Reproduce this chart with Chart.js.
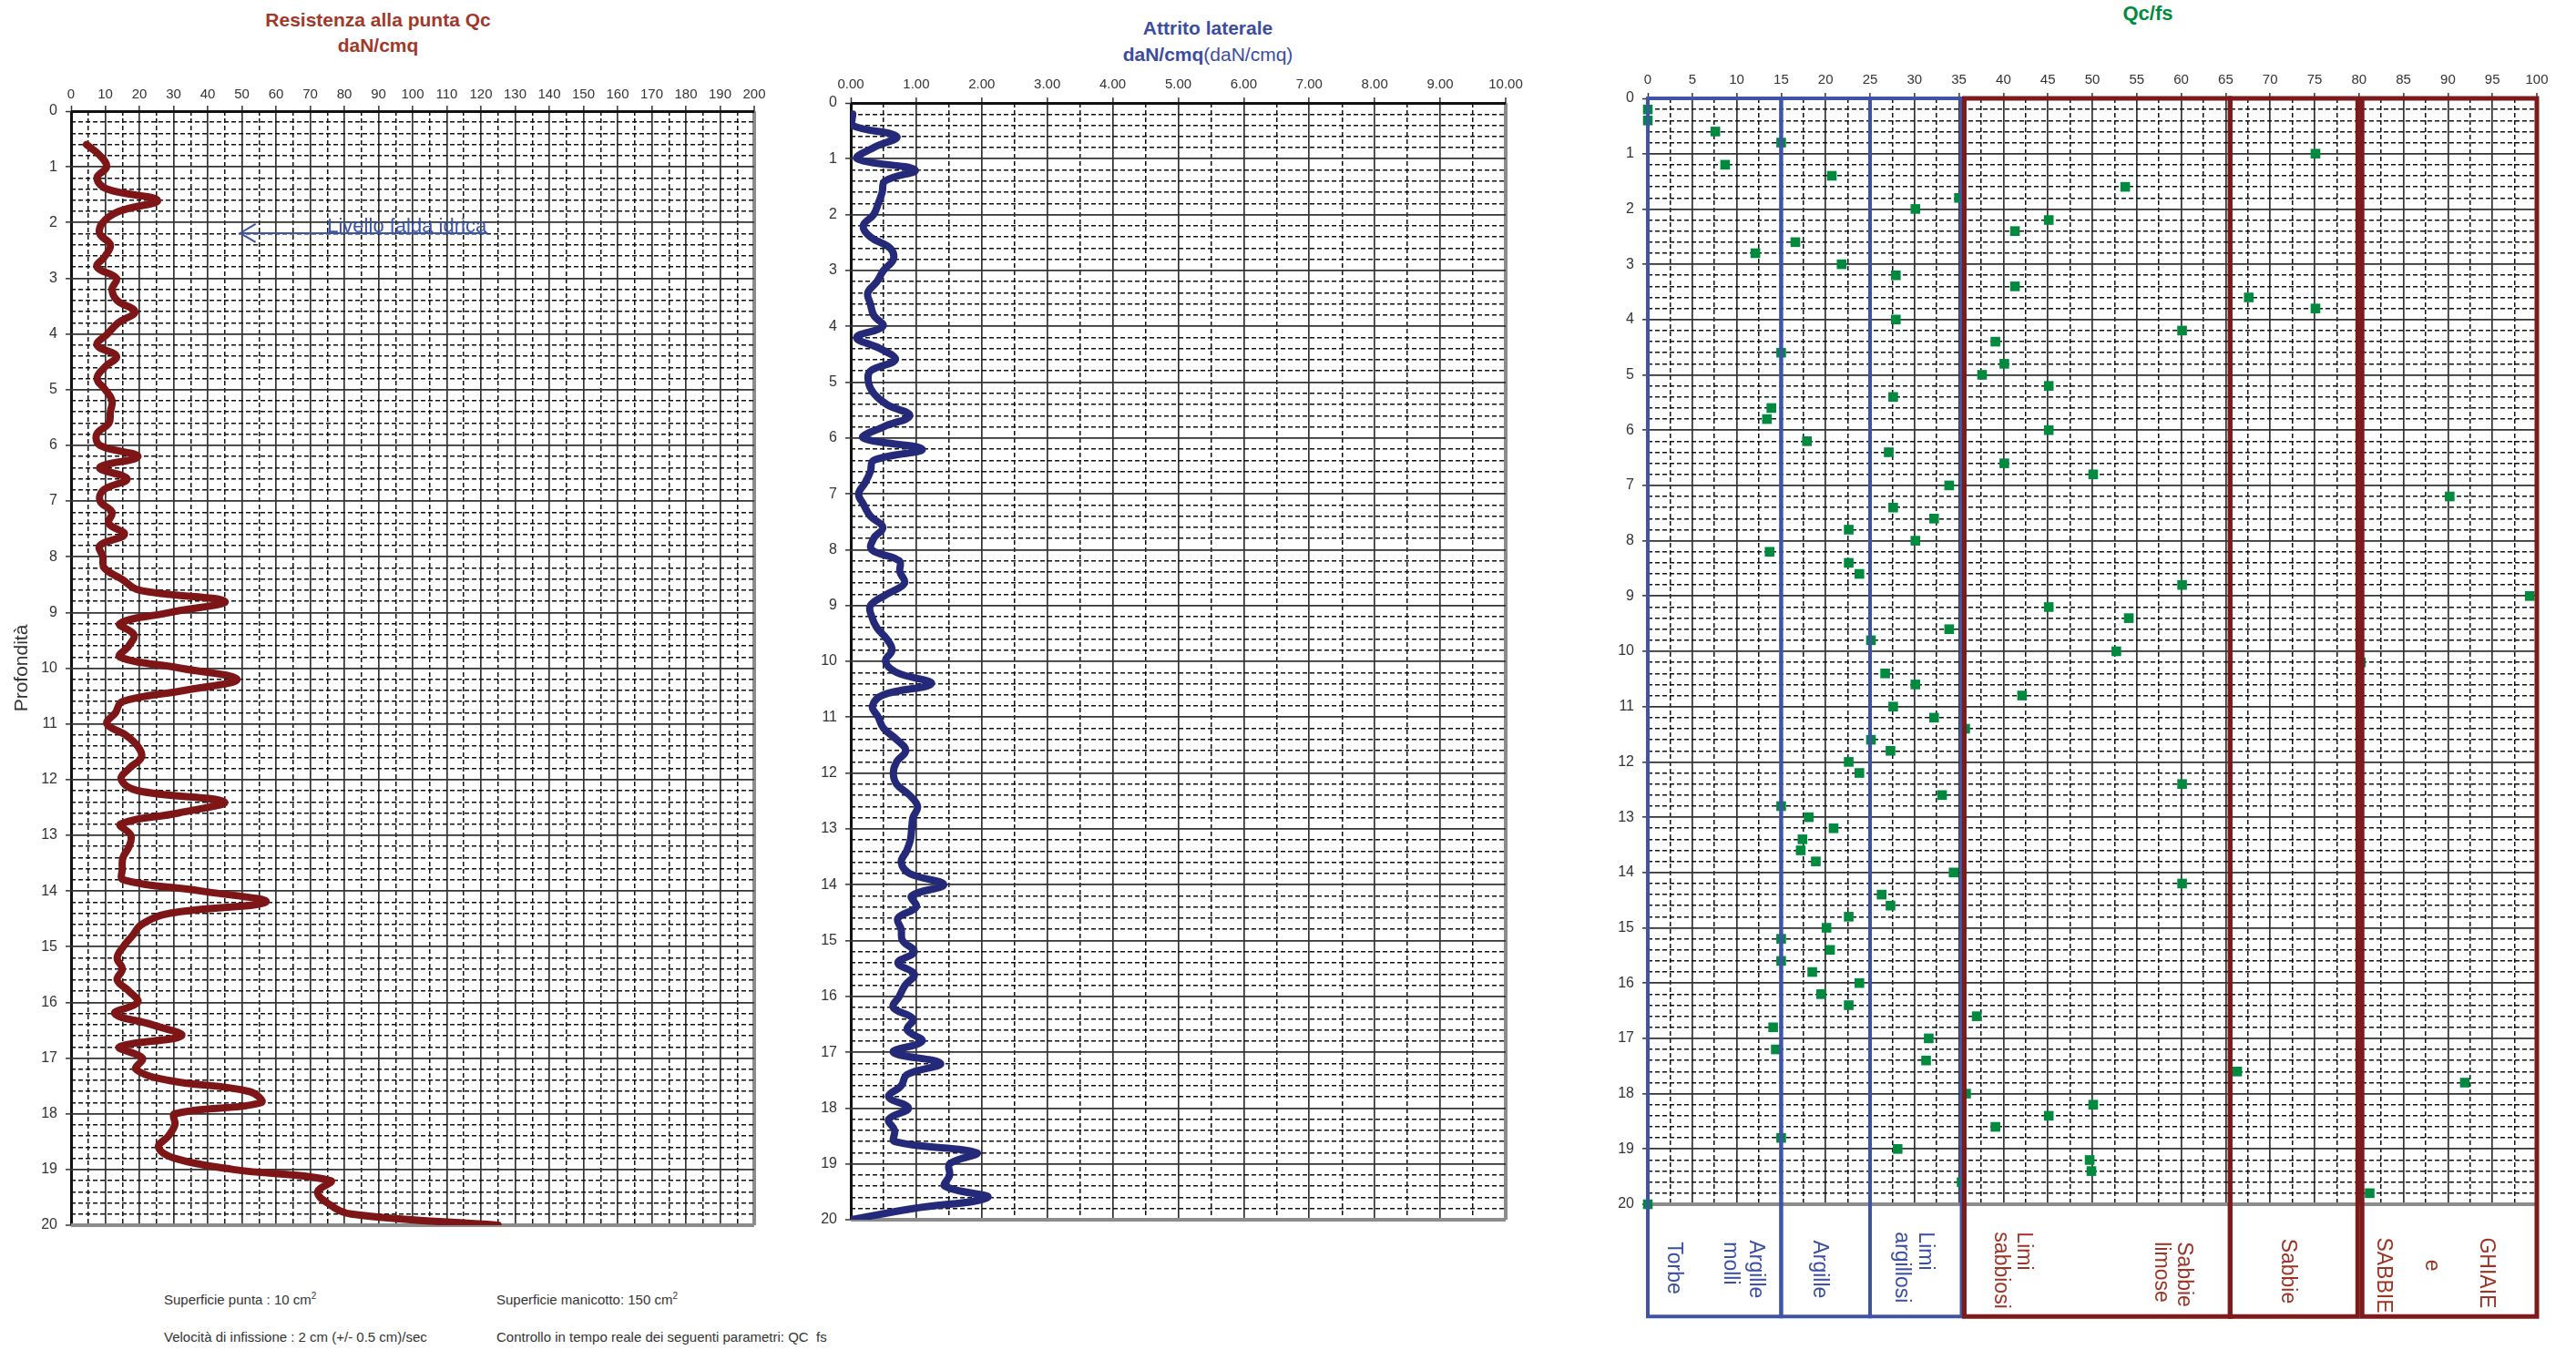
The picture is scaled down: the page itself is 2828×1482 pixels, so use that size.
<!DOCTYPE html>
<html>
<head>
<meta charset="utf-8">
<script src="https://cdn.jsdelivr.net/npm/chart.js@4.4.0/dist/chart.umd.min.js"></script>
<style>
  body { margin: 0; width: 2828px; height: 1482px; background: #fff; position: relative; overflow: hidden;
         font-family: 'Liberation Sans', Arial, sans-serif; }
  canvas { position: absolute; }
  .title { position: absolute; text-align: center; font-weight: bold; white-space: nowrap; }
  .note { position: absolute; font-size: 15px; color: #333; white-space: nowrap; }
  .note sup { font-size: 10px; }
</style>
</head>
<body>

<div class="title" style="left:215px;top:8px;width:400px;font-size:21px;line-height:28px;color:#a0392b">Resistenza alla punta Qc<br>daN/cmq</div>
<div class="title" style="left:1126px;top:16px;width:400px;font-size:21px;line-height:29px;color:#3b4ca2">Attrito laterale<br>daN/cmq<span style="font-weight:normal">(daN/cmq)</span></div>
<div class="title" style="left:2258px;top:1px;width:200px;font-size:22px;line-height:28px;color:#008a3e">Qc/fs</div>

<canvas id="qc" width="860" height="1370" style="left:0;top:0"></canvas>
<canvas id="fs" width="800" height="1370" style="left:880px;top:0"></canvas>
<canvas id="ratio" width="1088" height="1482" style="left:1740px;top:0"></canvas>

<div class="note" style="left:180px;top:1417px">Superficie punta : 10 cm<sup>2</sup></div>
<div class="note" style="left:545px;top:1417px">Superficie manicotto: 150 cm<sup>2</sup></div>
<div class="note" style="left:180px;top:1459px">Velocità di infissione : 2 cm (+/- 0.5 cm)/sec</div>
<div class="note" style="left:545px;top:1459px">Controllo in tempo reale dei seguenti parametri: QC&nbsp; fs</div>

<script>
// depth of each reading (m)
const depths = [
  0.2, 0.4, 0.6, 0.8, 1.0, 1.2, 1.4, 1.6, 1.8, 2.0,
  2.2, 2.4, 2.6, 2.8, 3.0, 3.2, 3.4, 3.6, 3.8, 4.0,
  4.2, 4.4, 4.6, 4.8, 5.0, 5.2, 5.4, 5.6, 5.8, 6.0,
  6.2, 6.4, 6.6, 6.8, 7.0, 7.2, 7.4, 7.6, 7.8, 8.0,
  8.2, 8.4, 8.6, 8.8, 9.0, 9.2, 9.4, 9.6, 9.8, 10.0,
  10.2, 10.4, 10.6, 10.8, 11.0, 11.2, 11.4, 11.6, 11.8, 12.0,
  12.2, 12.4, 12.6, 12.8, 13.0, 13.2, 13.4, 13.6, 13.8, 14.0,
  14.2, 14.4, 14.6, 14.8, 15.0, 15.2, 15.4, 15.6, 15.8, 16.0,
  16.2, 16.4, 16.6, 16.8, 17.0, 17.2, 17.4, 17.6, 17.8, 18.0,
  18.2, 18.4, 18.6, 18.8, 19.0, 19.2, 19.4, 19.6, 19.8, 20.0
];

// resistenza alla punta Qc (daN/cmq)
const qcValues = [
  null, null, 4.5, 8.5, 10.4, 7.6, 10.5, 25.3, 14, 9.3,
  8.4, 11.5, 10, 7.6, 13.3, 12, 13.5, 18.7, 13.8, 10.7,
  7.6, 13.3, 9.8, 7.6, 10, 12, 11.5, 11.1, 7.5, 8.5,
  19.6, 8.4, 16.4, 9.5, 8.5, 12, 11, 15.6, 8.4, 9.3,
  9.7, 14.8, 20, 45, 29, 14.3, 18.4, 16.9, 14.3, 32,
  48.6, 33, 15, 13, 10.5, 16, 19.5, 20.6, 17, 14.7,
  19.5, 44.8, 31.5, 14.5, 17.5, 17, 15.2, 15, 15.3, 38,
  57, 29, 20.7, 18, 15.3, 13.5, 15, 13.5, 17, 19.5,
  12.8, 23.7, 32.3, 14.2, 20.9, 19, 28.5, 52.2, 55.6, 30.4,
  30.4, 28.5, 25.6, 30.4, 47.5, 76, 72.2, 75, 82, 125
];

// attrito laterale fs (daN/cmq)
const fsValues = [
  0.03, 0.02, 0.7, 0.35, 0.1, 0.98, 0.52, 0.48, 0.42, 0.35,
  0.19, 0.3, 0.6, 0.65, 0.5, 0.4, 0.26, 0.3, 0.35, 0.49,
  0.09, 0.45, 0.68, 0.3, 0.27, 0.35, 0.55, 0.9, 0.5, 0.19,
  1.09, 0.35, 0.3, 0.22, 0.12, 0.2, 0.3, 0.49, 0.35, 0.32,
  0.74, 0.75, 0.82, 0.55, 0.3, 0.32, 0.4, 0.55, 0.63, 0.53,
  0.7, 1.23, 0.5, 0.33, 0.42, 0.5, 0.7, 0.84, 0.7, 0.65,
  0.7, 0.9, 1.02, 0.95, 0.93, 0.91, 0.85, 0.77, 0.9, 1.42,
  0.93, 1.0, 0.72, 0.77, 0.79, 0.97, 0.72, 0.97, 0.83, 0.74,
  0.65, 0.95, 0.86, 1.09, 0.65, 1.37, 0.86, 0.77, 0.58, 0.88,
  0.58, 0.67, 0.67, 1.92, 1.51, 1.51, 1.44, 2.09, 0.95, 0
];

// rapporto Qc/fs
const ratioValues = [
  0, 0, 7.6, 15.0, 75.1, 8.7, 20.7, 53.7, 35.0, 30.1,
  45.1, 41.3, 16.6, 12.1, 21.8, 27.9, 41.3, 67.6, 75.1, 27.9,
  60.1, 39.1, 15.0, 40.1, 37.6, 45.1, 27.6, 13.9, 13.4, 45.1,
  17.9, 27.1, 40.1, 50.1, 33.9, 90.2, 27.6, 32.2, 22.6, 30.1,
  13.7, 22.6, 23.8, 60.1, 99.2, 45.1, 54.1, 33.9, 25.1, 52.7,
  80.2, 26.7, 30.1, 42.1, 27.6, 32.2, 35.7, 25.1, 27.3, 22.6,
  23.8, 60.1, 33.1, 15.0, 18.1, 20.9, 17.4, 17.2, 18.9, 34.4,
  60.1, 26.3, 27.3, 22.6, 20.1, 15.0, 20.5, 15.0, 18.5, 23.8,
  19.5, 22.6, 37.0, 14.1, 31.6, 14.4, 31.3, 66.3, 91.9, 35.8,
  50.1, 45.1, 39.1, 15.0, 28.1, 49.7, 49.9, 35.3, 81.2, 0
];

// soil classes along the Qc/fs axis
const zoneBounds = [[0, 15], [15, 25], [25, 35.3], [35.6, 65.5], [65.5, 79.85], [80.35, 100]];
const zoneLabels = [
  [['Torbe', 2.9, 20.68], ['Argille', 12.1, 20.65], ['molli', 9.3, 20.68]],
  [['Argille', 19.3, 20.65]],
  [['Limi', 31.2, 20.5], ['argillosi', 28.5, 20.5]],
  [['Limi', 42.2, 20.5], ['sabbiosi', 39.7, 20.5], ['Sabbie', 60.3, 20.68], ['limose', 57.7, 20.68]],
  [['Sabbie', 72, 20.62]],
  [['GHIAIE', 94.3, 20.6], ['e', 88.1, 21.0], ['SABBIE', 82.7, 20.6]]
];
const zoneBottomDepth = 22.03;

const waterDepth = 2.19;

Chart.defaults.font.family = "'Liberation Sans', Arial, sans-serif";
Chart.defaults.color = '#333';

const isMult = (v, s) => Math.abs(v / s - Math.round(v / s)) < 1e-6;
const toPoints = vals => vals.map((v, i) => (v === null ? null : { x: v, y: depths[i] })).filter(p => p);

function gridStyle(major, max) {
  return {
    color: c => (c.tick.value === 0 ? '#111' : c.tick.value === max ? '#8c8c8c' : (isMult(c.tick.value, major) ? '#333' : '#111')),
    lineWidth: c => (c.tick.value === 0 ? 3 : c.tick.value === max ? 4 : (isMult(c.tick.value, major) ? 1.7 : 1.5)),
    tickLength: 6,
    tickWidth: 1.5,
    tickColor: c => (isMult(c.tick.value, major) ? '#333' : 'rgba(0,0,0,0)')
  };
}

function depthScale(width, pad) {
  return {
    type: 'linear',
    reverse: true,
    min: 0,
    max: 20,
    afterFit: s => { s.width = width; },
    ticks: {
      stepSize: 0.2, autoSkip: false, maxTicksLimit: 1000, padding: pad,
      font: { size: 16 }, color: '#333',
      callback: v => (isMult(v, 1) ? String(Math.round(v)) : '')
    },
    grid: gridStyle(1, 20),
    border: { display: false, dash: c => (c.tick && !isMult(c.tick.value, 1) ? [5, 3] : []) }
  };
}

function valueScale(max, major, minor, height, pad, fmt) {
  return {
    type: 'linear',
    position: 'top',
    min: 0,
    max: max,
    afterFit: s => { s.height = height; },
    ticks: {
      stepSize: minor, autoSkip: false, maxTicksLimit: 1000, padding: pad, maxRotation: 0,
      font: { size: 15 }, color: '#333',
      callback: v => (isMult(v, major) ? fmt(v) : '')
    },
    grid: gridStyle(major, max),
    border: { display: false, dash: c => (c.tick && !isMult(c.tick.value, major) ? [5, 3] : []) }
  };
}

const baseOptions = {
  responsive: false,
  animation: false,
  events: [],
  plugins: { legend: { display: false }, tooltip: { enabled: false } }
};

const waterTable = {
  id: 'waterTable',
  afterDatasetsDraw(chart) {
    const { ctx, scales: { x, y } } = chart;
    const yy = y.getPixelForValue(waterDepth);
    const x0 = x.getPixelForValue(49.5);
    const x1 = x.getPixelForValue(122);
    ctx.save();
    ctx.strokeStyle = '#3d55a8';
    ctx.lineWidth = 2;
    ctx.beginPath();
    ctx.moveTo(x1, yy);
    ctx.lineTo(x0, yy);
    ctx.moveTo(x0 + 17, yy - 10);
    ctx.lineTo(x0, yy);
    ctx.lineTo(x0 + 17, yy + 10);
    ctx.stroke();
    ctx.fillStyle = '#3d55a8';
    ctx.font = "22px 'Liberation Sans', Arial, sans-serif";
    ctx.textBaseline = 'alphabetic';
    ctx.fillText('Livello falda idrica', x.getPixelForValue(75), yy - 1);
    ctx.restore();
  }
};

const zonesPlugin = {
  id: 'zones',
  afterDatasetsDraw(chart) {
    const { ctx, scales: { x, y } } = chart;
    const top = y.getPixelForValue(0);
    const bottom = y.getPixelForValue(zoneBottomDepth);
    zoneBounds.forEach((b, i) => {
      const blue = b[1] <= 36;
      const l = x.getPixelForValue(b[0]);
      const r = x.getPixelForValue(b[1]);
      ctx.save();
      ctx.strokeStyle = blue ? '#3f54a6' : '#7d1a1c';
      ctx.lineWidth = blue ? 4 : 5;
      ctx.strokeRect(l, top, r - l, bottom - top);
      ctx.beginPath();
      ctx.rect(l, top, r - l, bottom - top - 3);
      ctx.clip();
      ctx.fillStyle = blue ? '#3a4fa3' : '#9c3325';
      ctx.font = "23px 'Liberation Sans', Arial, sans-serif";
      ctx.textAlign = 'left';
      ctx.textBaseline = 'middle';
      zoneLabels[i].forEach(([text, at, depth]) => {
        ctx.save();
        ctx.translate(x.getPixelForValue(at), y.getPixelForValue(depth));
        ctx.rotate(Math.PI / 2);
        ctx.fillText(text, 0, 0);
        ctx.restore();
      });
      ctx.restore();
    });
  }
};

new Chart(document.getElementById('qc'), {
  type: 'scatter',
  data: {
    datasets: [{
      data: toPoints(qcValues),
      showLine: true,
      borderColor: '#7e1517',
      borderWidth: 8,
      pointRadius: 0,
      tension: 0.4,
      borderCapStyle: 'round',
      borderJoinStyle: 'round'
    }]
  },
  options: {
    ...baseOptions,
    layout: { padding: { left: 0, top: 0, right: 32, bottom: 25 } },
    scales: {
      x: valueScale(200, 10, 5, 122, 3, v => String(Math.round(v))),
      y: {
        ...depthScale(78, 9),
        title: { display: true, text: 'Profondità', color: '#333', font: { size: 21 }, padding: { top: 12, bottom: 0 } }
      }
    }
  },
  plugins: [waterTable]
});

new Chart(document.getElementById('fs'), {
  type: 'scatter',
  data: {
    datasets: [{
      data: toPoints(fsValues),
      showLine: true,
      borderColor: '#25297a',
      borderWidth: 8,
      pointRadius: 0,
      tension: 0.4,
      borderCapStyle: 'round',
      borderJoinStyle: 'round'
    }]
  },
  options: {
    ...baseOptions,
    layout: { padding: { left: 0, top: 0, right: 27, bottom: 31 } },
    scales: {
      x: valueScale(10, 1, 0.5, 113, 5, v => v.toFixed(2)),
      y: depthScale(54, 9)
    }
  }
});

new Chart(document.getElementById('ratio'), {
  type: 'scatter',
  data: {
    datasets: [{
      data: toPoints(ratioValues),
      pointStyle: 'rect',
      pointRadius: 7.5,
      backgroundColor: '#008a3e',
      borderWidth: 0,
      clip: false
    }]
  },
  options: {
    ...baseOptions,
    layout: { padding: { left: 0, top: 0, right: 43, bottom: 160 } },
    scales: {
      x: valueScale(100, 5, 2.5, 108, 5, v => String(Math.round(v))),
      y: depthScale(69, 9)
    }
  },
  plugins: [zonesPlugin]
});
</script>
</body>
</html>
